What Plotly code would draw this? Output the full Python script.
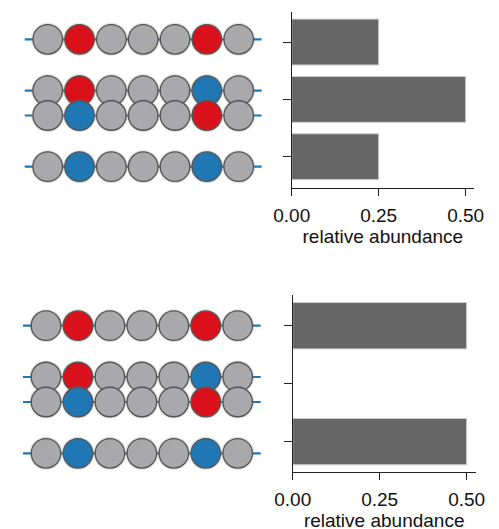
import plotly.graph_objects as go

# ---- data ----
# genotype rows: each row is a list of strands; each strand a sequence of residues
# g = grey (neutral), r = red, b = blue
top_genotypes = [["grgggrg"], ["grgggbg", "gbgggrg"], ["gbgggbg"]]
top_abundance = [0.25, 0.5, 0.25]
bottom_genotypes = [["grgggrg"], ["grgggbg", "gbgggrg"], ["gbgggbg"]]
bottom_abundance = [0.5, 0.0, 0.5]
x_ticks = [0.0, 0.25, 0.5]
x_ticklabels = ["0.00", "0.25", "0.50"]
x_title = "relative abundance"

COL = {"g": "#a9a9ab", "r": "#da111a", "b": "#1f77b4"}
W, H = 499, 529
OX, OY = 8, 8  # page body margin compensation

fig = go.Figure()

def px_x(a, b):
    return [(a - OX) / W, (b - OX) / W]

def px_y(top, bottom):
    return [1 - (bottom - OY) / H, 1 - (top - OY) / H]

def idx_range(first_center, spacing, right_px=270):
    return [(OX - first_center) / spacing, (right_px - first_center) / spacing]

panels = [
    dict(geno=top_genotypes, ab=top_abundance, suffix=("", "2"),
         bar_xdom=px_x(291.7, 474), bar_ydom=px_y(12, 188), bar_xr=[0, 0.524], bar_yr=[2.546, -0.524],
         left_ydom=px_y(12, 188), left_yr=[2.334, -0.4286], left_xr=idx_range(47.7, 31.83)),
    dict(geno=bottom_genotypes, ab=bottom_abundance, suffix=("3", "4"),
         bar_xdom=px_x(292.7, 475.7), bar_ydom=px_y(295, 472.3), bar_xr=[0, 0.526], bar_yr=[2.53, -0.53],
         left_ydom=px_y(295, 472.3), left_yr=[2.298, -0.481], left_xr=idx_range(46.0, 31.95)),
]

FONT = dict(family="Liberation Sans, Arial", size=19, color="#111")
strand_off = 0.196
layout_axes = {}
for p in panels:
    ls, bs = p["suffix"]
    lx, ly = "x" + ls, "y" + ls
    bx, by = "x" + bs, "y" + bs
    # left: genotype cartoons
    for ri, strands in enumerate(p["geno"]):
        n = len(strands)
        for si, seq in enumerate(strands):
            yrow = ri + (si - (n - 1) / 2) * 2 * strand_off
            L = len(seq)
            fig.add_trace(go.Scatter(x=[-0.72, L - 1 + 0.72], y=[yrow, yrow], mode="lines",
                                     line=dict(color="#1f77b4", width=2.2), xaxis=lx, yaxis=ly,
                                     showlegend=False, hoverinfo="skip"))
            fig.add_trace(go.Scatter(x=list(range(L)), y=[yrow] * L, mode="markers",
                                     marker=dict(size=33, color="rgba(120,120,120,0.22)", line=dict(width=0)),
                                     xaxis=lx, yaxis=ly, showlegend=False, hoverinfo="skip"))
            fig.add_trace(go.Scatter(x=list(range(L)), y=[yrow] * L, mode="markers",
                                     marker=dict(size=29.5, color=[COL[c] for c in seq],
                                                 line=dict(color="#555555", width=1.3)),
                                     xaxis=lx, yaxis=ly, showlegend=False, hoverinfo="skip"))
    # right: bars
    fig.add_trace(go.Bar(x=p["ab"], y=list(range(len(p["ab"]))), orientation="h", width=0.8,
                         marker=dict(color="#666666",
                                     line=dict(color="#cfcfcf", width=[1 if v > 0 else 0 for v in p["ab"]])),
                         xaxis=bx, yaxis=by, showlegend=False, hoverinfo="skip"))
    layout_axes["xaxis" + ls] = dict(domain=[0, (270 - OX) / W], range=p["left_xr"], visible=False,
                                     anchor=ly, automargin=False)
    layout_axes["yaxis" + ls] = dict(domain=p["left_ydom"], range=p["left_yr"], visible=False,
                                     anchor=lx, automargin=False)
    layout_axes["xaxis" + bs] = dict(domain=p["bar_xdom"], range=p["bar_xr"], anchor=by, automargin=False,
                                     tickvals=x_ticks, ticktext=x_ticklabels, ticks="outside", ticklen=7,
                                     tickwidth=1.2, tickcolor="#222", showline=True, linecolor="#222",
                                     linewidth=1.2, showgrid=False, zeroline=False, tickfont=FONT,
                                     ticklabelstandoff=3,
                                     title=dict(text=x_title, standoff=1, font=FONT))
    layout_axes["yaxis" + bs] = dict(domain=p["bar_ydom"], range=p["bar_yr"], anchor=bx, automargin=False,
                                     tickvals=[0, 1, 2], showticklabels=False, ticks="outside", ticklen=8,
                                     tickwidth=1.2, tickcolor="#222", showline=True, linecolor="#222",
                                     linewidth=1.2, showgrid=False, zeroline=False)

fig.update_layout(template="none", width=W, height=H, margin=dict(l=0, r=0, t=0, b=0, pad=0),
                  paper_bgcolor="white", plot_bgcolor="rgba(0,0,0,0)", bargap=0.2,
                  **layout_axes)
fig.write_html("out.html")
